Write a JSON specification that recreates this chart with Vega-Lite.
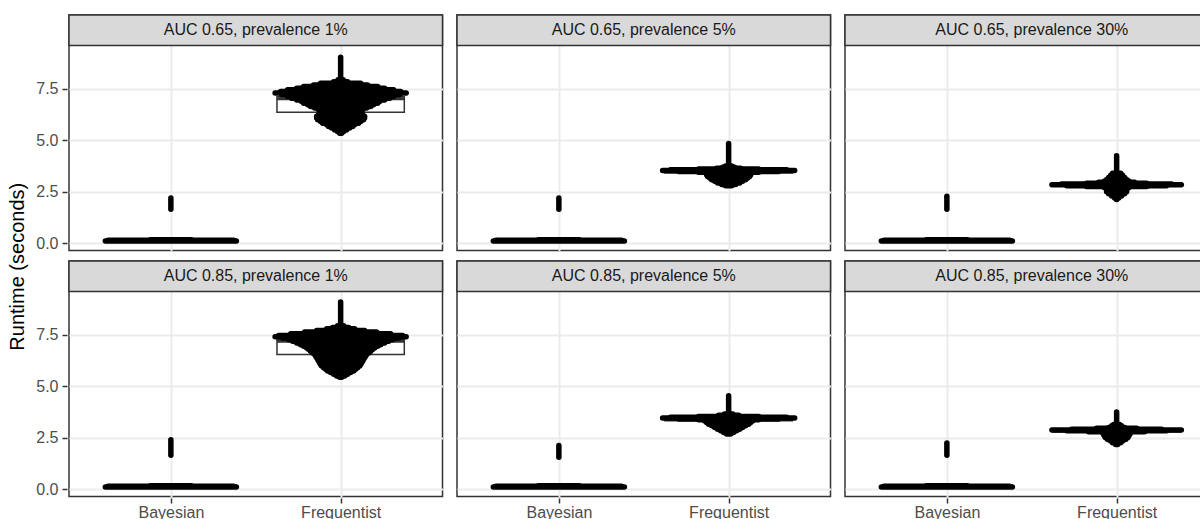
{
 "$schema": "https://vega.github.io/schema/vega-lite/v6.json",
 "padding": {"left": 7, "top": 13, "right": 0, "bottom": 0},
 "title": {"text": "Runtime (seconds)", "orient": "left", "anchor": "middle", "fontSize": 20, "fontWeight": "normal", "color": "#000000", "font": "Liberation Sans", "offset": 8},
 "data": {"values": [
  {"kind":"strip","panel":"AUC 0.65, prevalence 1%"},
  {"kind":"strip","panel":"AUC 0.65, prevalence 5%"},
  {"kind":"strip","panel":"AUC 0.65, prevalence 30%"},
  {"kind":"strip","panel":"AUC 0.85, prevalence 1%"},
  {"kind":"strip","panel":"AUC 0.85, prevalence 5%"},
  {"kind":"strip","panel":"AUC 0.85, prevalence 30%"},

  {"kind":"box","panel":"AUC 0.65, prevalence 1%","q1":6.37,"med":7.03,"q3":7.12},
  {"kind":"box","panel":"AUC 0.65, prevalence 5%","q1":3.42,"med":3.53,"q3":3.57},
  {"kind":"box","panel":"AUC 0.65, prevalence 30%","q1":2.78,"med":2.84,"q3":2.87},
  {"kind":"box","panel":"AUC 0.85, prevalence 1%","q1":6.55,"med":7.2,"q3":7.28},
  {"kind":"box","panel":"AUC 0.85, prevalence 5%","q1":3.33,"med":3.44,"q3":3.48},
  {"kind":"box","panel":"AUC 0.85, prevalence 30%","q1":2.78,"med":2.87,"q3":2.9},

  {"kind":"row","panel":"AUC 0.65, prevalence 1%","y":0.11,"lo":0.614,"hi":1.386},
  {"kind":"row","panel":"AUC 0.65, prevalence 1%","y":0.14,"lo":0.63,"hi":1.37},
  {"kind":"row","panel":"AUC 0.65, prevalence 1%","y":0.17,"lo":0.88,"hi":1.12},
  {"kind":"row","panel":"AUC 0.65, prevalence 5%","y":0.11,"lo":0.614,"hi":1.386},
  {"kind":"row","panel":"AUC 0.65, prevalence 5%","y":0.14,"lo":0.63,"hi":1.37},
  {"kind":"row","panel":"AUC 0.65, prevalence 5%","y":0.17,"lo":0.88,"hi":1.12},
  {"kind":"row","panel":"AUC 0.65, prevalence 30%","y":0.11,"lo":0.614,"hi":1.386},
  {"kind":"row","panel":"AUC 0.65, prevalence 30%","y":0.14,"lo":0.63,"hi":1.37},
  {"kind":"row","panel":"AUC 0.65, prevalence 30%","y":0.17,"lo":0.88,"hi":1.12},
  {"kind":"row","panel":"AUC 0.85, prevalence 1%","y":0.11,"lo":0.614,"hi":1.386},
  {"kind":"row","panel":"AUC 0.85, prevalence 1%","y":0.14,"lo":0.63,"hi":1.37},
  {"kind":"row","panel":"AUC 0.85, prevalence 1%","y":0.17,"lo":0.88,"hi":1.12},
  {"kind":"row","panel":"AUC 0.85, prevalence 5%","y":0.11,"lo":0.614,"hi":1.386},
  {"kind":"row","panel":"AUC 0.85, prevalence 5%","y":0.14,"lo":0.63,"hi":1.37},
  {"kind":"row","panel":"AUC 0.85, prevalence 5%","y":0.17,"lo":0.88,"hi":1.12},
  {"kind":"row","panel":"AUC 0.85, prevalence 30%","y":0.11,"lo":0.614,"hi":1.386},
  {"kind":"row","panel":"AUC 0.85, prevalence 30%","y":0.14,"lo":0.63,"hi":1.37},
  {"kind":"row","panel":"AUC 0.85, prevalence 30%","y":0.17,"lo":0.88,"hi":1.12},

  {"kind":"col","panel":"AUC 0.65, prevalence 1%","x":1,"y":1.65,"y2":2.2},
  {"kind":"col","panel":"AUC 0.65, prevalence 5%","x":1,"y":1.65,"y2":2.2},
  {"kind":"col","panel":"AUC 0.65, prevalence 30%","x":1,"y":1.65,"y2":2.28},
  {"kind":"col","panel":"AUC 0.85, prevalence 1%","x":1,"y":1.65,"y2":2.4},
  {"kind":"col","panel":"AUC 0.85, prevalence 5%","x":1,"y":1.55,"y2":2.12},
  {"kind":"col","panel":"AUC 0.85, prevalence 30%","x":1,"y":1.65,"y2":2.25},
  {"kind":"col","panel":"AUC 0.65, prevalence 1%","x":2,"y":7.9,"y2":9.05},
  {"kind":"col","panel":"AUC 0.65, prevalence 5%","x":2,"y":3.7,"y2":4.85},
  {"kind":"col","panel":"AUC 0.65, prevalence 30%","x":2,"y":3.5,"y2":4.25},
  {"kind":"col","panel":"AUC 0.85, prevalence 1%","x":2,"y":7.9,"y2":9.1},
  {"kind":"col","panel":"AUC 0.85, prevalence 5%","x":2,"y":3.6,"y2":4.55},
  {"kind":"col","panel":"AUC 0.85, prevalence 30%","x":2,"y":3.1,"y2":3.75},

  {"kind":"row","panel":"AUC 0.65, prevalence 1%","y":7.95,"lo":1.985,"hi":2.015},
  {"kind":"row","panel":"AUC 0.65, prevalence 1%","y":7.85,"lo":1.959,"hi":2.041},
  {"kind":"row","panel":"AUC 0.65, prevalence 1%","y":7.78,"lo":1.882,"hi":2.118},
  {"kind":"row","panel":"AUC 0.65, prevalence 1%","y":7.70,"lo":1.841,"hi":2.159},
  {"kind":"row","panel":"AUC 0.65, prevalence 1%","y":7.62,"lo":1.782,"hi":2.218},
  {"kind":"row","panel":"AUC 0.65, prevalence 1%","y":7.54,"lo":1.741,"hi":2.259},
  {"kind":"row","panel":"AUC 0.65, prevalence 1%","y":7.46,"lo":1.688,"hi":2.312},
  {"kind":"row","panel":"AUC 0.65, prevalence 1%","y":7.38,"lo":1.647,"hi":2.353},
  {"kind":"row","panel":"AUC 0.65, prevalence 1%","y":7.30,"lo":1.614,"hi":2.386},
  {"kind":"row","panel":"AUC 0.65, prevalence 1%","y":7.22,"lo":1.653,"hi":2.347},
  {"kind":"row","panel":"AUC 0.65, prevalence 1%","y":7.14,"lo":1.688,"hi":2.312},
  {"kind":"row","panel":"AUC 0.65, prevalence 1%","y":7.05,"lo":1.711,"hi":2.289},
  {"kind":"row","panel":"AUC 0.65, prevalence 1%","y":6.97,"lo":1.741,"hi":2.259},
  {"kind":"row","panel":"AUC 0.65, prevalence 1%","y":6.89,"lo":1.77,"hi":2.23},
  {"kind":"row","panel":"AUC 0.65, prevalence 1%","y":6.81,"lo":1.782,"hi":2.218},
  {"kind":"row","panel":"AUC 0.65, prevalence 1%","y":6.73,"lo":1.806,"hi":2.194},
  {"kind":"row","panel":"AUC 0.65, prevalence 1%","y":6.65,"lo":1.823,"hi":2.177},
  {"kind":"row","panel":"AUC 0.65, prevalence 1%","y":6.57,"lo":1.847,"hi":2.153},
  {"kind":"row","panel":"AUC 0.65, prevalence 1%","y":6.49,"lo":1.87,"hi":2.13},
  {"kind":"row","panel":"AUC 0.65, prevalence 1%","y":6.41,"lo":1.888,"hi":2.112},
  {"kind":"row","panel":"AUC 0.65, prevalence 1%","y":6.33,"lo":1.9,"hi":2.1},
  {"kind":"row","panel":"AUC 0.65, prevalence 1%","y":6.25,"lo":1.87,"hi":2.13},
  {"kind":"row","panel":"AUC 0.65, prevalence 1%","y":6.17,"lo":1.859,"hi":2.141},
  {"kind":"row","panel":"AUC 0.65, prevalence 1%","y":6.09,"lo":1.859,"hi":2.141},
  {"kind":"row","panel":"AUC 0.65, prevalence 1%","y":6.00,"lo":1.865,"hi":2.135},
  {"kind":"row","panel":"AUC 0.65, prevalence 1%","y":5.92,"lo":1.882,"hi":2.118},
  {"kind":"row","panel":"AUC 0.65, prevalence 1%","y":5.84,"lo":1.894,"hi":2.106},
  {"kind":"row","panel":"AUC 0.65, prevalence 1%","y":5.76,"lo":1.918,"hi":2.082},
  {"kind":"row","panel":"AUC 0.65, prevalence 1%","y":5.68,"lo":1.929,"hi":2.071},
  {"kind":"row","panel":"AUC 0.65, prevalence 1%","y":5.60,"lo":1.947,"hi":2.053},
  {"kind":"row","panel":"AUC 0.65, prevalence 1%","y":5.51,"lo":1.965,"hi":2.035},
  {"kind":"row","panel":"AUC 0.65, prevalence 1%","y":5.43,"lo":1.982,"hi":2.018},
  {"kind":"row","panel":"AUC 0.65, prevalence 1%","y":5.35,"lo":1.994,"hi":2.006},

  {"kind":"row","panel":"AUC 0.65, prevalence 5%","y":3.75,"lo":1.982,"hi":2.018},
  {"kind":"row","panel":"AUC 0.65, prevalence 5%","y":3.70,"lo":1.965,"hi":2.035},
  {"kind":"row","panel":"AUC 0.65, prevalence 5%","y":3.65,"lo":1.929,"hi":2.071},
  {"kind":"row","panel":"AUC 0.65, prevalence 5%","y":3.61,"lo":1.823,"hi":2.177},
  {"kind":"row","panel":"AUC 0.65, prevalence 5%","y":3.57,"lo":1.658,"hi":2.342},
  {"kind":"row","panel":"AUC 0.65, prevalence 5%","y":3.53,"lo":1.611,"hi":2.389},
  {"kind":"row","panel":"AUC 0.65, prevalence 5%","y":3.49,"lo":1.706,"hi":2.294},
  {"kind":"row","panel":"AUC 0.65, prevalence 5%","y":3.45,"lo":1.823,"hi":2.177},
  {"kind":"row","panel":"AUC 0.65, prevalence 5%","y":3.40,"lo":1.87,"hi":2.13},
  {"kind":"row","panel":"AUC 0.65, prevalence 5%","y":3.33,"lo":1.87,"hi":2.13},
  {"kind":"row","panel":"AUC 0.65, prevalence 5%","y":3.25,"lo":1.876,"hi":2.124},
  {"kind":"row","panel":"AUC 0.65, prevalence 5%","y":3.17,"lo":1.888,"hi":2.112},
  {"kind":"row","panel":"AUC 0.65, prevalence 5%","y":3.09,"lo":1.9,"hi":2.1},
  {"kind":"row","panel":"AUC 0.65, prevalence 5%","y":3.01,"lo":1.918,"hi":2.082},
  {"kind":"row","panel":"AUC 0.65, prevalence 5%","y":2.93,"lo":1.935,"hi":2.065},
  {"kind":"row","panel":"AUC 0.65, prevalence 5%","y":2.86,"lo":1.959,"hi":2.041},
  {"kind":"row","panel":"AUC 0.65, prevalence 5%","y":2.80,"lo":1.982,"hi":2.018},

  {"kind":"row","panel":"AUC 0.65, prevalence 30%","y":3.40,"lo":1.976,"hi":2.024},
  {"kind":"row","panel":"AUC 0.65, prevalence 30%","y":3.30,"lo":1.965,"hi":2.035},
  {"kind":"row","panel":"AUC 0.65, prevalence 30%","y":3.20,"lo":1.953,"hi":2.047},
  {"kind":"row","panel":"AUC 0.65, prevalence 30%","y":3.10,"lo":1.941,"hi":2.059},
  {"kind":"row","panel":"AUC 0.65, prevalence 30%","y":3.02,"lo":1.929,"hi":2.071},
  {"kind":"row","panel":"AUC 0.65, prevalence 30%","y":2.96,"lo":1.894,"hi":2.106},
  {"kind":"row","panel":"AUC 0.65, prevalence 30%","y":2.92,"lo":1.823,"hi":2.177},
  {"kind":"row","panel":"AUC 0.65, prevalence 30%","y":2.88,"lo":1.676,"hi":2.324},
  {"kind":"row","panel":"AUC 0.65, prevalence 30%","y":2.84,"lo":1.619,"hi":2.381},
  {"kind":"row","panel":"AUC 0.65, prevalence 30%","y":2.80,"lo":1.706,"hi":2.294},
  {"kind":"row","panel":"AUC 0.65, prevalence 30%","y":2.76,"lo":1.823,"hi":2.177},
  {"kind":"row","panel":"AUC 0.65, prevalence 30%","y":2.70,"lo":1.929,"hi":2.071},
  {"kind":"row","panel":"AUC 0.65, prevalence 30%","y":2.60,"lo":1.941,"hi":2.059},
  {"kind":"row","panel":"AUC 0.65, prevalence 30%","y":2.50,"lo":1.941,"hi":2.059},
  {"kind":"row","panel":"AUC 0.65, prevalence 30%","y":2.40,"lo":1.953,"hi":2.047},
  {"kind":"row","panel":"AUC 0.65, prevalence 30%","y":2.30,"lo":1.971,"hi":2.029},
  {"kind":"row","panel":"AUC 0.65, prevalence 30%","y":2.20,"lo":1.988,"hi":2.012},
  {"kind":"row","panel":"AUC 0.65, prevalence 30%","y":2.12,"lo":1.999,"hi":2.001},

  {"kind":"row","panel":"AUC 0.85, prevalence 1%","y":7.95,"lo":1.982,"hi":2.018},
  {"kind":"row","panel":"AUC 0.85, prevalence 1%","y":7.87,"lo":1.953,"hi":2.047},
  {"kind":"row","panel":"AUC 0.85, prevalence 1%","y":7.80,"lo":1.918,"hi":2.082},
  {"kind":"row","panel":"AUC 0.85, prevalence 1%","y":7.72,"lo":1.859,"hi":2.141},
  {"kind":"row","panel":"AUC 0.85, prevalence 1%","y":7.64,"lo":1.788,"hi":2.212},
  {"kind":"row","panel":"AUC 0.85, prevalence 1%","y":7.56,"lo":1.706,"hi":2.294},
  {"kind":"row","panel":"AUC 0.85, prevalence 1%","y":7.48,"lo":1.635,"hi":2.365},
  {"kind":"row","panel":"AUC 0.85, prevalence 1%","y":7.42,"lo":1.614,"hi":2.386},
  {"kind":"row","panel":"AUC 0.85, prevalence 1%","y":7.35,"lo":1.658,"hi":2.342},
  {"kind":"row","panel":"AUC 0.85, prevalence 1%","y":7.27,"lo":1.694,"hi":2.306},
  {"kind":"row","panel":"AUC 0.85, prevalence 1%","y":7.19,"lo":1.717,"hi":2.283},
  {"kind":"row","panel":"AUC 0.85, prevalence 1%","y":7.11,"lo":1.741,"hi":2.259},
  {"kind":"row","panel":"AUC 0.85, prevalence 1%","y":7.03,"lo":1.764,"hi":2.236},
  {"kind":"row","panel":"AUC 0.85, prevalence 1%","y":6.95,"lo":1.782,"hi":2.218},
  {"kind":"row","panel":"AUC 0.85, prevalence 1%","y":6.87,"lo":1.8,"hi":2.2},
  {"kind":"row","panel":"AUC 0.85, prevalence 1%","y":6.79,"lo":1.812,"hi":2.188},
  {"kind":"row","panel":"AUC 0.85, prevalence 1%","y":6.71,"lo":1.823,"hi":2.177},
  {"kind":"row","panel":"AUC 0.85, prevalence 1%","y":6.63,"lo":1.835,"hi":2.165},
  {"kind":"row","panel":"AUC 0.85, prevalence 1%","y":6.55,"lo":1.847,"hi":2.153},
  {"kind":"row","panel":"AUC 0.85, prevalence 1%","y":6.47,"lo":1.853,"hi":2.147},
  {"kind":"row","panel":"AUC 0.85, prevalence 1%","y":6.39,"lo":1.859,"hi":2.141},
  {"kind":"row","panel":"AUC 0.85, prevalence 1%","y":6.31,"lo":1.865,"hi":2.135},
  {"kind":"row","panel":"AUC 0.85, prevalence 1%","y":6.23,"lo":1.87,"hi":2.13},
  {"kind":"row","panel":"AUC 0.85, prevalence 1%","y":6.15,"lo":1.876,"hi":2.124},
  {"kind":"row","panel":"AUC 0.85, prevalence 1%","y":6.07,"lo":1.882,"hi":2.118},
  {"kind":"row","panel":"AUC 0.85, prevalence 1%","y":5.99,"lo":1.888,"hi":2.112},
  {"kind":"row","panel":"AUC 0.85, prevalence 1%","y":5.91,"lo":1.9,"hi":2.1},
  {"kind":"row","panel":"AUC 0.85, prevalence 1%","y":5.83,"lo":1.912,"hi":2.088},
  {"kind":"row","panel":"AUC 0.85, prevalence 1%","y":5.75,"lo":1.923,"hi":2.077},
  {"kind":"row","panel":"AUC 0.85, prevalence 1%","y":5.67,"lo":1.941,"hi":2.059},
  {"kind":"row","panel":"AUC 0.85, prevalence 1%","y":5.59,"lo":1.959,"hi":2.041},
  {"kind":"row","panel":"AUC 0.85, prevalence 1%","y":5.51,"lo":1.976,"hi":2.024},
  {"kind":"row","panel":"AUC 0.85, prevalence 1%","y":5.45,"lo":1.994,"hi":2.006},

  {"kind":"row","panel":"AUC 0.85, prevalence 5%","y":3.66,"lo":1.976,"hi":2.024},
  {"kind":"row","panel":"AUC 0.85, prevalence 5%","y":3.60,"lo":1.941,"hi":2.059},
  {"kind":"row","panel":"AUC 0.85, prevalence 5%","y":3.54,"lo":1.823,"hi":2.177},
  {"kind":"row","panel":"AUC 0.85, prevalence 5%","y":3.50,"lo":1.658,"hi":2.342},
  {"kind":"row","panel":"AUC 0.85, prevalence 5%","y":3.46,"lo":1.611,"hi":2.389},
  {"kind":"row","panel":"AUC 0.85, prevalence 5%","y":3.42,"lo":1.706,"hi":2.294},
  {"kind":"row","panel":"AUC 0.85, prevalence 5%","y":3.38,"lo":1.823,"hi":2.177},
  {"kind":"row","panel":"AUC 0.85, prevalence 5%","y":3.32,"lo":1.859,"hi":2.141},
  {"kind":"row","panel":"AUC 0.85, prevalence 5%","y":3.24,"lo":1.87,"hi":2.13},
  {"kind":"row","panel":"AUC 0.85, prevalence 5%","y":3.16,"lo":1.882,"hi":2.118},
  {"kind":"row","panel":"AUC 0.85, prevalence 5%","y":3.08,"lo":1.9,"hi":2.1},
  {"kind":"row","panel":"AUC 0.85, prevalence 5%","y":3.00,"lo":1.918,"hi":2.082},
  {"kind":"row","panel":"AUC 0.85, prevalence 5%","y":2.92,"lo":1.935,"hi":2.065},
  {"kind":"row","panel":"AUC 0.85, prevalence 5%","y":2.84,"lo":1.953,"hi":2.047},
  {"kind":"row","panel":"AUC 0.85, prevalence 5%","y":2.76,"lo":1.971,"hi":2.029},
  {"kind":"row","panel":"AUC 0.85, prevalence 5%","y":2.68,"lo":1.988,"hi":2.012},

  {"kind":"row","panel":"AUC 0.85, prevalence 30%","y":3.15,"lo":1.982,"hi":2.018},
  {"kind":"row","panel":"AUC 0.85, prevalence 30%","y":3.08,"lo":1.971,"hi":2.029},
  {"kind":"row","panel":"AUC 0.85, prevalence 30%","y":3.00,"lo":1.953,"hi":2.047},
  {"kind":"row","panel":"AUC 0.85, prevalence 30%","y":2.96,"lo":1.882,"hi":2.118},
  {"kind":"row","panel":"AUC 0.85, prevalence 30%","y":2.92,"lo":1.735,"hi":2.265},
  {"kind":"row","panel":"AUC 0.85, prevalence 30%","y":2.88,"lo":1.619,"hi":2.381},
  {"kind":"row","panel":"AUC 0.85, prevalence 30%","y":2.84,"lo":1.706,"hi":2.294},
  {"kind":"row","panel":"AUC 0.85, prevalence 30%","y":2.80,"lo":1.835,"hi":2.165},
  {"kind":"row","panel":"AUC 0.85, prevalence 30%","y":2.74,"lo":1.918,"hi":2.082},
  {"kind":"row","panel":"AUC 0.85, prevalence 30%","y":2.66,"lo":1.923,"hi":2.077},
  {"kind":"row","panel":"AUC 0.85, prevalence 30%","y":2.58,"lo":1.929,"hi":2.071},
  {"kind":"row","panel":"AUC 0.85, prevalence 30%","y":2.50,"lo":1.935,"hi":2.065},
  {"kind":"row","panel":"AUC 0.85, prevalence 30%","y":2.42,"lo":1.947,"hi":2.053},
  {"kind":"row","panel":"AUC 0.85, prevalence 30%","y":2.34,"lo":1.965,"hi":2.035},
  {"kind":"row","panel":"AUC 0.85, prevalence 30%","y":2.26,"lo":1.976,"hi":2.024},
  {"kind":"row","panel":"AUC 0.85, prevalence 30%","y":2.18,"lo":1.994,"hi":2.006}
 ]},
 "facet": {"field": "panel", "type": "nominal", "sort": ["AUC 0.65, prevalence 1%", "AUC 0.65, prevalence 5%", "AUC 0.65, prevalence 30%", "AUC 0.85, prevalence 1%", "AUC 0.85, prevalence 5%", "AUC 0.85, prevalence 30%"], "header": {"labels": false, "title": null, "labelFontSize": 0, "labelPadding": 0, "labelExpr": "''"}},
 "columns": 3,
 "spacing": {"row": 7, "column": 11},
 "spec": {
  "width": 373.5,
  "height": 235.5,
  "layer": [
   {
    "transform": [{"filter": "datum.kind === 'box'"}],
    "mark": {"type": "rect", "fill": "#ffffff", "stroke": "#333333", "strokeWidth": 1.5},
    "encoding": {
     "x": {"datum": 1.625, "type": "quantitative", "scale": {"domain": [0.4, 2.6], "nice": false, "zero": false}, "axis": {"values": [1, 2], "labelExpr": "datum.value == 1 ? 'Bayesian' : 'Frequentist'", "labelPadding": 1, "title": null}},
     "x2": {"datum": 2.375},
     "y": {"field": "q1", "type": "quantitative", "scale": {"domain": [-0.355, 11.099], "nice": false, "zero": false}, "axis": {"values": [0, 1.25, 2.5, 3.75, 5, 6.25, 7.5, 8.75], "labelExpr": "datum.value % 2.5 === 0 ? format(datum.value, '.1f') : ''", "gridWidth": {"condition": {"test": "datum.value % 2.5 !== 0", "value": 1}, "value": 2}, "tickOpacity": {"condition": {"test": "datum.value % 2.5 !== 0", "value": 0}, "value": 1}, "title": null}},
     "y2": {"field": "q3"}
    }
   },
   {
    "transform": [{"filter": "datum.kind === 'box'"}],
    "mark": {"type": "rule", "color": "#333333", "strokeWidth": 3},
    "encoding": {
     "x": {"datum": 1.625, "type": "quantitative", "axis": {"title": null}},
     "x2": {"datum": 2.375},
     "y": {"field": "med", "type": "quantitative", "axis": {"title": null}}
    }
   },
   {
    "transform": [{"filter": "datum.kind === 'row'"}],
    "mark": {"type": "rule", "color": "#000000", "strokeWidth": 5.5, "strokeCap": "round"},
    "encoding": {
     "x": {"field": "lo", "type": "quantitative", "axis": {"title": null}},
     "x2": {"field": "hi"},
     "y": {"field": "y", "type": "quantitative", "axis": {"title": null}}
    }
   },
   {
    "transform": [{"filter": "datum.kind === 'col'"}],
    "mark": {"type": "rule", "color": "#000000", "strokeWidth": 5.5, "strokeCap": "round"},
    "encoding": {
     "x": {"field": "x", "type": "quantitative", "axis": {"title": null}},
     "y": {"field": "y", "type": "quantitative", "axis": {"title": null}},
     "y2": {"field": "y2"}
    }
   },
   {
    "transform": [{"filter": "datum.kind === 'strip'"}],
    "mark": {"type": "rect", "fill": "#d9d9d9", "stroke": "#333333", "strokeWidth": 1.5},
    "encoding": {
     "x": {"datum": 0.4, "type": "quantitative", "axis": {"title": null}},
     "x2": {"datum": 2.6},
     "y": {"datum": 9.616, "type": "quantitative", "axis": {"title": null}},
     "y2": {"datum": 11.099}
    }
   },
   {
    "transform": [{"filter": "datum.kind === 'strip'"}],
    "mark": {"type": "text", "fontSize": 16, "color": "#1a1a1a", "font": "Liberation Sans", "baseline": "middle", "align": "center"},
    "encoding": {
     "x": {"datum": 1.5, "type": "quantitative", "axis": {"title": null}},
     "y": {"datum": 10.357, "type": "quantitative", "axis": {"title": null}},
     "text": {"field": "panel", "type": "nominal"}
    }
   }
  ]
 },
 "config": {
  "font": "Liberation Sans",
  "header": {"labels": false, "title": null, "labelFontSize": 0, "labelPadding": 0},
  "headerFacet": {"labels": false, "labelFontSize": 0, "labelPadding": 0},
  "view": {"stroke": "#333333", "strokeWidth": 1.5},
  "axis": {"domain": false, "grid": true, "gridColor": "#ebebeb", "gridWidth": 2, "labelColor": "#4d4d4d", "labelFontSize": 16, "labelFont": "Liberation Sans", "tickColor": "#333333", "tickSize": 5, "tickWidth": 1.5, "labelPadding": 4}
 }
}
